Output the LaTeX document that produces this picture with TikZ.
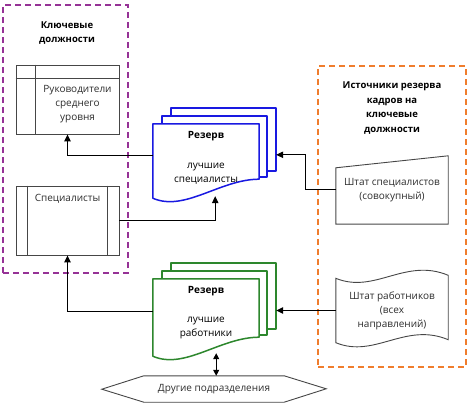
\documentclass[tikz,border=0pt]{standalone}
\usepackage{fontspec}
\setmainfont{Open Sans}
\usepackage{xcolor}
\usepackage{tikz}
\usetikzlibrary{positioning,arrows.meta,backgrounds}

\definecolor{keypurple}{RGB}{150,50,150}
\definecolor{srcorange}{RGB}{240,125,45}
\definecolor{resblue}{RGB}{25,25,225}
\definecolor{resgreen}{RGB}{45,135,45}
\definecolor{linegrey}{RGB}{70,70,70}
\definecolor{textgrey}{RGB}{45,45,45}

\tikzset{pageline/.style={draw=#1, fill=white, line width=1.5pt, line join=round}}

\newcommand{\reservestack}[2]{%
  \begin{scope}[on background layer]
    \path[pageline=#2] ([shift={(18,-16)}]#1.north west) rectangle ([shift={(17,-8)}]#1.south east);
    \path[pageline=#2] ([shift={(9,-8)}]#1.north west) rectangle ([shift={(8,-2)}]#1.south east);
    \path[pageline=#2] (#1.north west) -- (#1.north east) -- (#1.south east)
      .. controls +(-39,0) and +(32,14) .. ([shift={(0,19)}]#1.south west) -- cycle;
  \end{scope}}

\begin{document}
\begin{tikzpicture}[
            x=1pt, y=-1pt,
            frame/.style={dash pattern=on 6pt off 4pt, line width=1.4pt, inner sep=0pt},
            keybox/.style={rectangle, draw=linegrey, line width=0.9pt, minimum width=103pt, minimum height=69pt, inner sep=0pt},
            boxline/.style={draw=linegrey, line width=0.9pt},
            boxtext/.style={align=center, text=textgrey, font=\fontsize{10}{14}\selectfont},
            title/.style={align=center, font=\bfseries\fontsize{9.5}{14.5}\selectfont},
            respage/.style={rectangle, minimum width=106pt, inner sep=0pt},
            srcbox/.style={rectangle, minimum width=112pt, inner sep=0pt, align=center, text=textgrey, font=\fontsize{10}{14}\selectfont},
            link/.style={-{Triangle[length=7pt,width=6.5pt]}, line width=1pt},
            twolink/.style={{Triangle[length=6pt,width=6pt]}-{Triangle[length=6pt,width=6pt]}, line width=1pt}
        ]
        \useasboundingbox (0,0) rectangle (474,406);

        \node[frame, draw=keypurple, minimum width=125pt, minimum height=268pt] (keyframe) at (65.5,139) {};
        \node[frame, draw=srcorange, minimum width=148pt, minimum height=301pt] (srcframe) at (392,216.5) {};

        \node[title] (keytitle) at (67,33) {Ключевые\\должности};
        \node[title] (srctitle) at (392,108) {Источники резерва\\кадров на\\ключевые\\должности};

        \node[keybox] (rukov) at (67.5,99.5) {};
        \draw[boxline] ([shift={(20,0)}]rukov.north west) -- ([shift={(20,0)}]rukov.south west);
        \draw[boxline] ([shift={(0,14)}]rukov.north west) -- ([shift={(0,14)}]rukov.north east);
        \node[boxtext] (rukovtext) at (77.5,104) {Руководители\\среднего\\уровня};

        \node[keybox] (spec) at (67.5,220.5) {};
        \draw[boxline] ([shift={(12,0)}]spec.north west) -- ([shift={(12,0)}]spec.south west);
        \draw[boxline] ([shift={(-12,0)}]spec.north east) -- ([shift={(-12,0)}]spec.south east);
        \node[boxtext] (spectext) at (67.5,199) {Специалисты};

        \node[respage, minimum height=55pt] (resspec) at (206,151.5) {};
        \reservestack{resspec}{resblue}
        \node[boxtext, text=black] (resspectext) at (206,158) {\textbf{Резерв}\\[16pt]лучшие\\специалисты};
        \coordinate (resspec-wave) at ([shift={(-44,17)}]resspec.south east);
        \coordinate (resspec-back) at ([shift={(17,31)}]resspec.north east);

        \node[respage, minimum height=58pt] (reswork) at (206,308) {};
        \reservestack{reswork}{resgreen}
        \node[boxtext, text=black] (resworktext) at (206,313) {\textbf{Резерв}\\[15pt]лучшие\\работники};
        \coordinate (reswork-wave) at ([shift={(-43,16)}]reswork.south east);
        \coordinate (reswork-back) at ([shift={(17,0)}]reswork.east);

        \node[srcbox, minimum height=68pt] (shtatspec) at (392,190) {Штат специалистов\\(совокупный)};
        \draw[boxline] ([shift={(0,12)}]shtatspec.north west) -- (shtatspec.north east)
            -- (shtatspec.south east) -- (shtatspec.south west) -- cycle;

        \node[srcbox, minimum height=64pt] (shtatwork) at (392,310.5) {Штат работников\\(всех\\направлений)};
        \draw[boxline] (shtatwork.north west) .. controls +(39,16) and +(-43,-18) .. ([shift={(0,-3)}]shtatwork.north east)
            -- ([shift={(0,-3)}]shtatwork.south east) .. controls +(-43,-18) and +(39,16) .. (shtatwork.south west) -- cycle;

        \node[boxtext, minimum width=140pt, minimum height=26pt, inner sep=0pt] (others) at (214,389) {Другие подразделения};
        \draw[boxline] (others.north west) -- (others.north east) -- ++(42,13) -- (others.south east)
            -- (others.south west) -- ++(-42,-13) -- cycle;

        \draw[link] ([shift={(0,4.5)}]resspec.west) -| (rukov.south);
        \draw[link] (spec.east) -| (resspec-wave);
        \draw[link] (shtatspec.west) -- ++(-30,0) |- (resspec-back);
        \draw[link] ([shift={(0,3)}]reswork.west) -| (spec.south);
        \draw[link] (shtatwork.west) -- (shtatwork.west -| reswork-back);
        \draw[twolink] (reswork-wave) -- (reswork-wave |- others.north);

    \end{tikzpicture}
\end{document}
